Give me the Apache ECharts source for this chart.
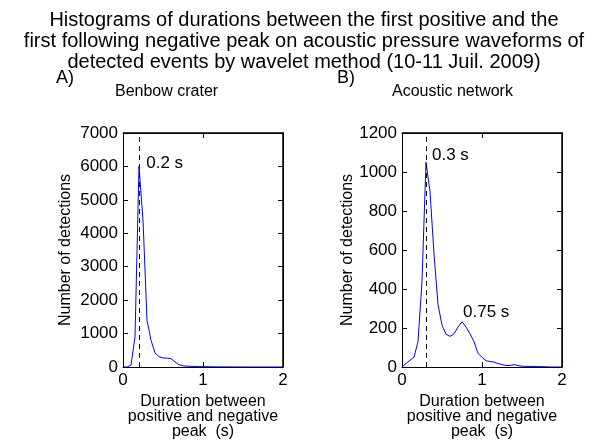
<!DOCTYPE html>
<html><head><meta charset="utf-8">
<script src="https://cdn.jsdelivr.net/npm/echarts@6/dist/echarts.min.js"></script>
<style>html,body{margin:0;padding:0;background:#fff}#c{width:602px;height:446px}</style>
</head><body><div id="c"></div>
<script>
var durations = [0,0.05,0.1,0.15,0.2,0.25,0.3,0.35,0.4,0.45,0.5,0.55,0.6,0.65,0.7,0.75,0.8,0.85,0.9,0.95,1.0,1.05,1.1,1.15,1.2,1.25,1.3,1.35,1.4,1.45,1.5,1.55,1.6,1.65,1.7,1.75,1.8,1.85,1.9,1.95,2.0];
var benbowCounts = [0,0,60,900,6000,4400,1400,800,420,310,270,265,250,150,70,35,25,20,15,12,10,8,6,5,4,3,3,2,2,1,1,1,0,0,0,0,0,0,0,0,0];
var networkCounts = [0,18,35,50,130,440,1050,900,580,320,215,168,157,170,205,232,205,170,130,70,50,32,28,25,18,12,8,8,12,8,4,3,3,3,2,2,1,0,0,0,0];
var benbowPeak = 0.2, networkPeak = 0.3;
var xMax = 2, benbowYMax = 7000, networkYMax = 1200;
var titleLines = ['Histograms of durations between the first positive and the',
                  'first following negative peak on acoustic pressure waveforms of',
                  'detected events by wavelet method (10-11 Juil. 2009)'];

function pairs(xs, ys){ return xs.map(function(x,i){ return [x, ys[i]]; }); }
var FONT = 'Liberation Sans, Arial, sans-serif';
var tick = {show:true, inside:true, length:5, lineStyle:{color:'#000'}};
var lbl = {color:'#000', fontSize:17, fontFamily:FONT, formatter:function(v){return String(v);}};
var aLine = {show:true, onZero:false, lineStyle:{color:'#000', width:1}};

function xAx(g){
  return [
    {type:'value', gridIndex:g, position:'bottom', min:0, max:xMax, interval:1, axisLine:aLine, axisTick:tick, splitLine:{show:false}, axisLabel:Object.assign({margin:5},lbl),
     name:'Duration between\npositive and negative\npeak  (s)', nameLocation:'middle', nameGap:20, nameTextStyle:{color:'#000', fontSize:16, fontFamily:FONT, lineHeight:15, verticalAlign:'top'}},
    {type:'value', gridIndex:g, position:'top', min:0, max:xMax, interval:1, axisLine:aLine, axisTick:tick, splitLine:{show:false}, axisLabel:{show:false}}
  ];
}
function yAx(g, max, iv){
  return [
    {type:'value', gridIndex:g, position:'left', min:0, max:max, interval:iv, axisLine:aLine, axisTick:tick, splitLine:{show:false}, axisLabel:Object.assign({margin:5},lbl),
     name:'Number of detections', nameLocation:'middle', nameGap: (max>2000?49:45), nameRotate:90, nameTextStyle:{color:'#000', fontSize:16, fontFamily:FONT}},
    {type:'value', gridIndex:g, position:'right', min:0, max:max, interval:iv, axisLine:aLine, axisTick:tick, splitLine:{show:false}, axisLabel:{show:false}}
  ];
}
function annot(coord, text){
  return {coord:coord, symbol:'circle', symbolSize:0, label:{show:true, position:'right', distance:0, formatter:text, color:'#000', fontSize:17, fontFamily:FONT}};
}
function txt(x, y, s, size, align){
  return {type:'text', x:x, y:y, style:{text:s, fill:'#000', font:size+'px '+FONT, textAlign:align||'left', textVerticalAlign:'middle'}};
}

var graphics = titleLines.map(function(s,i){ return txt(304, 20+i*21, s, 20, 'center'); });
graphics.push(txt(56, 78, 'A)', 18), txt(115, 92, 'Benbow crater', 16), txt(392, 92, 'Acoustic network', 16), txt(337, 78, 'B)', 18));

var chart = echarts.init(document.getElementById('c'), null, {renderer:'canvas'});
chart.setOption({
  animation:false,
  backgroundColor:'#fff',
  graphic: graphics,
  grid:[
    {left:123, top:133, width:160, height:234},
    {left:402, top:133, width:160, height:234}
  ],
  xAxis: xAx(0).concat(xAx(1)),
  yAxis: yAx(0, benbowYMax, 1000).concat(yAx(1, networkYMax, 200)),
  series:[
    {type:'line', xAxisIndex:0, yAxisIndex:0, data:pairs(durations, benbowCounts), showSymbol:false, smooth:false,
     lineStyle:{color:'#0000ff', width:1}, itemStyle:{color:'#0000ff'},
     markLine:{silent:true, symbol:'none', label:{show:false}, lineStyle:{color:'#000', type:[5,4], width:1}, data:[{xAxis:benbowPeak}]},
     markPoint:{silent:true, data:[annot([0.29, 6100], '0.2 s')]}},
    {type:'line', xAxisIndex:2, yAxisIndex:2, data:pairs(durations, networkCounts), showSymbol:false, smooth:false,
     lineStyle:{color:'#0000ff', width:1}, itemStyle:{color:'#0000ff'},
     markLine:{silent:true, symbol:'none', label:{show:false}, lineStyle:{color:'#000', type:[5,4], width:1}, data:[{xAxis:networkPeak}]},
     markPoint:{silent:true, data:[annot([0.375, 1086], '0.3 s'), annot([0.7625, 283], '0.75 s')]}}
  ]
});

// frame lines (top and right edges) derived from the axis scales
var frames = [];
[[0, benbowYMax], [1, networkYMax]].forEach(function(p){
  var a = chart.convertToPixel({gridIndex:p[0]}, [0, 0]);
  var b = chart.convertToPixel({gridIndex:p[0]}, [xMax, p[1]]);
  var x0 = Math.round(a[0]), y0 = Math.round(a[1]), x1 = Math.round(b[0]), y1 = Math.round(b[1]);
  frames.push({type:'polyline', silent:true, z:100, shape:{points:[[x0, y1], [x1, y1], [x1, y0]]}, style:{stroke:'#000000', lineWidth:1.5, fill:null}});
});
chart.setOption({graphic: graphics.concat(frames)});
</script></body></html>
